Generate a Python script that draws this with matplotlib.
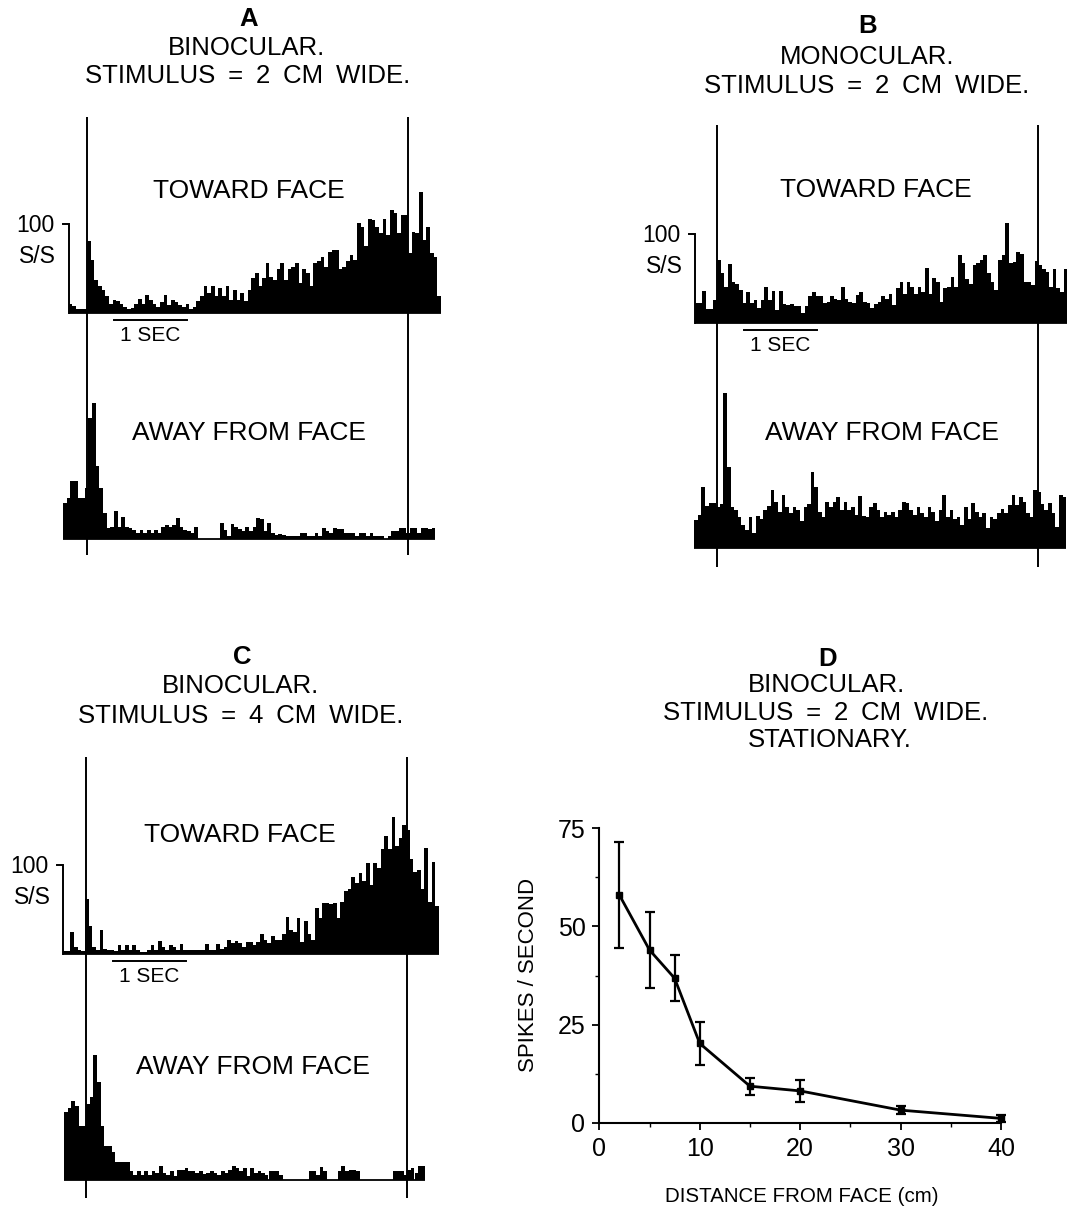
import numpy as np
import matplotlib.pyplot as plt

plt.rcParams['font.family'] = ['Liberation Sans', 'DejaVu Sans']

W, H = 1070, 1207
fig = plt.figure(figsize=(W / 100, H / 100), dpi=100)
fig.patch.set_facecolor('white')

# histogram values, spikes/s, 0.05 s bins starting a little before stimulus onset
BIN = 0.05
STIM_OFF = 4.4   # s, stimulus arrives / stops

a_toward = [10, 8, 5, 4, 5, 81, 60, 37, 30, 26,
            19, 10, 15, 13, 10, 7, 4, 6, 10, 16,
            10, 20, 15, 10, 7, 12, 20, 9, 15, 12,
            9, 7, 10, 4, 7, 13, 19, 30, 22, 30,
            19, 28, 19, 30, 15, 26, 15, 22, 13, 26,
            39, 45, 30, 39, 56, 41, 37, 49, 56, 37,
            49, 52, 56, 34, 49, 45, 30, 56, 58, 63,
            52, 69, 71, 71, 49, 52, 58, 65, 60, 101,
            97, 75, 106, 104, 97, 90, 106, 88, 116, 112,
            90, 110, 110, 67, 91, 90, 136, 82, 97, 67,
            63, 19]
a_away = [40, 46, 65, 65, 46, 46, 57, 136, 153, 82,
          57, 29, 12, 14, 32, 14, 25, 14, 12, 10,
          7, 10, 7, 10, 7, 10, 7, 14, 16, 14,
          16, 24, 14, 10, 9, 7, 14, 0, 0, 0,
          0, 0, 0, 18, 10, 3, 17, 14, 11, 9,
          14, 9, 14, 24, 22, 9, 18, 7, 5, 6,
          5, 3, 3, 3, 3, 7, 7, 3, 3, 7,
          3, 12, 9, 7, 12, 11, 11, 7, 7, 7,
          3, 7, 7, 3, 7, 3, 3, 3, 0, 3,
          9, 9, 12, 12, 7, 12, 12, 7, 12, 12,
          11, 12]
b_toward = [22, 22, 36, 16, 16, 26, 71, 56, 41, 66,
            46, 44, 37, 22, 35, 22, 26, 17, 26, 41,
            26, 36, 15, 36, 21, 20, 21, 19, 19, 11,
            19, 30, 35, 30, 30, 22, 24, 30, 27, 26,
            41, 27, 24, 22, 31, 35, 24, 22, 17, 21,
            24, 30, 27, 33, 20, 39, 46, 33, 46, 41,
            33, 41, 35, 62, 33, 51, 46, 24, 39, 41,
            52, 41, 76, 67, 50, 44, 65, 67, 71, 76,
            56, 46, 37, 71, 76, 112, 67, 69, 80, 77,
            46, 46, 43, 70, 65, 61, 57, 41, 61, 39,
            35, 61]
b_away = [31, 37, 69, 47, 51, 51, 46, 50, 174, 91,
          46, 43, 35, 26, 20, 35, 17, 36, 33, 43,
          47, 65, 52, 41, 59, 46, 39, 46, 43, 30,
          46, 50, 85, 69, 41, 35, 52, 46, 52, 57,
          43, 52, 43, 46, 37, 58, 36, 35, 46, 51,
          43, 35, 41, 37, 41, 35, 43, 52, 51, 43,
          37, 46, 39, 35, 46, 41, 30, 43, 59, 35,
          43, 33, 35, 26, 46, 33, 51, 41, 35, 39,
          22, 35, 33, 39, 44, 39, 48, 59, 48, 57,
          52, 39, 35, 65, 63, 50, 43, 51, 39, 24,
          59, 57]
c_toward = [3, 3, 25, 8, 5, 3, 62, 31, 8, 5,
            27, 6, 5, 5, 3, 10, 5, 10, 5, 10,
            5, 2, 2, 5, 10, 5, 15, 8, 5, 10,
            8, 5, 11, 5, 5, 5, 5, 5, 4, 11,
            5, 5, 11, 6, 8, 16, 12, 15, 12, 8,
            14, 14, 10, 14, 22, 16, 12, 20, 16, 16,
            23, 42, 27, 25, 41, 14, 37, 22, 16, 52,
            41, 57, 57, 56, 57, 41, 58, 71, 73, 86,
            80, 91, 82, 102, 77, 102, 97, 118, 133, 118,
            154, 121, 130, 145, 139, 107, 92, 94, 73, 119,
            58, 103, 54]
c_away = [76, 81, 89, 83, 61, 61, 85, 93, 140, 110,
          61, 38, 38, 31, 20, 20, 20, 20, 10, 6,
          10, 6, 10, 6, 10, 8, 16, 8, 6, 10,
          4, 11, 11, 13, 10, 10, 8, 10, 7, 8,
          10, 8, 6, 10, 8, 11, 16, 13, 10, 13,
          4, 13, 8, 10, 8, 6, 10, 10, 10, 6,
          0, 0, 0, 0, 0, 0, 0, 10, 10, 6,
          15, 10, 0, 0, 0, 10, 16, 10, 11, 11,
          10, 0, 0, 0, 0, 0, 0, 0, 0, 0,
          10, 10, 10, 6, 11, 13, 8, 16, 16]

# panel D
dist = [2, 5, 7.5, 10, 15, 20, 30, 40]
rate = [58.0, 44.0, 36.8, 20.2, 9.3, 8.1, 3.2, 1.1]
rate_err = [13.4, 9.7, 5.8, 5.5, 2.2, 2.8, 1.1, 0.9]

PX_SEC = 73.0    # pixels per second
PX_100 = 89.0    # pixels per 100 spikes/s
SP = '\u2002'    # wide word gap used in the panel titles


def ftext(xp, yp, s, **kw):
    fig.text(xp / W, 1 - yp / H, s, ha='center', va='center', **kw)


def hist_panel(box, onset_px, base_px, away_px, top_px, bot_px,
               toward, away, t0_tw, t0_aw):
    x0, y0, x1, y1 = box
    ax = fig.add_axes([x0 / W, 1 - y1 / H, (x1 - x0) / W, (y1 - y0) / H])
    ax.set_xlim((x0 - onset_px) / PX_SEC, (x1 - onset_px) / PX_SEC)
    ax.set_ylim((base_px - y1) / PX_100 * 100, (base_px - y0) / PX_100 * 100)
    ax.axis('off')
    away_base = (base_px - away_px) / PX_100 * 100

    for vals, t0, b in ((toward, t0_tw, 0), (away, t0_aw, away_base)):
        edges = t0 + BIN * np.arange(len(vals))
        ax.bar(edges, vals, width=BIN, bottom=b, align='edge',
               color='black', linewidth=0)
        ax.hlines(b, t0, t0 + BIN * len(vals), color='black', lw=1.3)

    ytop = (base_px - top_px) / PX_100 * 100
    ybot = (base_px - bot_px) / PX_100 * 100
    ax.vlines([0, STIM_OFF], ybot, ytop, color='black', lw=1.4)

    # 100 S/S scale bar
    ax.plot([t0_tw - 0.08, t0_tw, t0_tw], [100, 100, 0], color='black',
            lw=1.4, solid_joinstyle='miter')
    ax.text(t0_tw - 0.2, 98, '100', ha='right', va='center', fontsize=16.5)
    ax.text(t0_tw - 0.17, 64, 'S/S', ha='right', va='center', fontsize=16.5)

    # 1 s time bar
    ax.plot([0.37, 1.37], [-8, -8], color='black', lw=1.4)
    ax.text(0.87, -25, '1 SEC', ha='center', va='center', fontsize=15)
    return ax


hist_panel((0, 95, 540, 585), 87, 313, 539, 117, 555,
           a_toward, a_away, -0.25, -0.33)
hist_panel((545, 95, 1070, 585), 717, 323, 548, 125, 567,
           b_toward, b_away, -0.30, -0.315)
hist_panel((0, 740, 540, 1207), 86, 954, 1180, 757, 1198,
           c_toward, c_away, -0.315, -0.30)

LBL = 19
ftext(249, 191, 'TOWARD FACE', fontsize=LBL)
ftext(249, 433, 'AWAY FROM FACE', fontsize=LBL)
ftext(876, 190, 'TOWARD FACE', fontsize=LBL)
ftext(882, 433, 'AWAY FROM FACE', fontsize=LBL)
ftext(240, 835, 'TOWARD FACE', fontsize=LBL)
ftext(253, 1067, 'AWAY FROM FACE', fontsize=LBL)


def stim(width):
    return SP.join(['STIMULUS', '=', width, 'CM', 'WIDE.'])


TT = 18.5
ftext(249, 19, 'A', fontsize=18.5, fontweight='bold')
ftext(246, 48, 'BINOCULAR.', fontsize=TT)
ftext(248, 76, stim('2'), fontsize=TT)
ftext(868, 26, 'B', fontsize=18.5, fontweight='bold')
ftext(867, 57, 'MONOCULAR.', fontsize=TT)
ftext(867, 86, stim('2'), fontsize=TT)
ftext(242, 657, 'C', fontsize=18.5, fontweight='bold')
ftext(240, 686, 'BINOCULAR.', fontsize=TT)
ftext(241, 716, stim('4'), fontsize=TT)
ftext(828, 659, 'D', fontsize=18.5, fontweight='bold')
ftext(827, 685, 'BINOCULAR.', fontsize=TT)
ftext(826, 713, stim('2'), fontsize=TT)
ftext(830, 740, 'STATIONARY.', fontsize=TT)

# panel D
axd = fig.add_axes([599.3 / W, 1 - 1122.7 / H, 401.7 / W, 294.4 / H])
axd.errorbar(dist, rate, yerr=rate_err, color='black', lw=2,
             elinewidth=1.6, capsize=3.5, capthick=1.6,
             marker='s', ms=4, clip_on=False, zorder=3)
axd.set_xlim(0, 40)
axd.set_ylim(0, 75)
axd.set_xticks([0, 10, 20, 30, 40])
axd.set_yticks([0, 25, 50, 75])
axd.set_xticks([5, 15, 25, 35], minor=True)
axd.set_yticks([12.5, 37.5, 62.5], minor=True)
for s in ('top', 'right'):
    axd.spines[s].set_visible(False)
for s in ('left', 'bottom'):
    axd.spines[s].set_linewidth(1.5)
axd.tick_params(which='major', length=5, width=1.3, labelsize=18, pad=5)
axd.tick_params(which='minor', length=3, width=1.0)
ftext(528, 975, 'SPIKES / SECOND', fontsize=16, rotation=90)
ftext(802, 1197, 'DISTANCE FROM FACE (cm)', fontsize=14.8)

fig.savefig('out.png', dpi=100, facecolor='white')
